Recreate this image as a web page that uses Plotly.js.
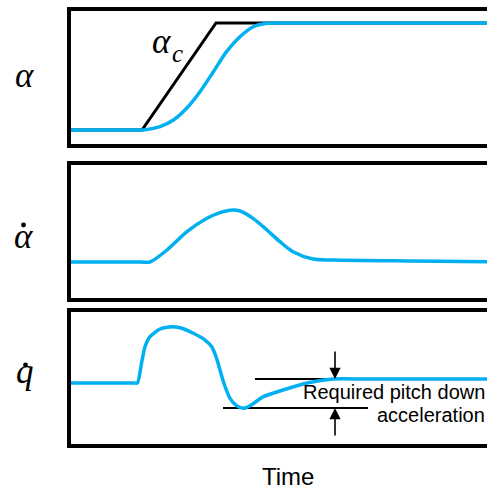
<!DOCTYPE html>
<html><head><meta charset="utf-8">
<script src="https://cdn.plot.ly/plotly-3.0.1.min.js"></script>
<style>html,body{margin:0;padding:0;background:#fff}</style>
</head><body><div id="chart" style="width:487px;height:490px"></div>
<script>
// ---- data (time units 0..105, normalised response units) ----
var alphaT   = [0, 17, 19.1, 23.25, 26.6, 29.9, 33.25, 36.6, 39.9, 43.25, 46.6, 49.9, 53.25, 58, 105];
var alphaV   = [0, 0, 0, 0.031, 0.093, 0.203, 0.358, 0.545, 0.732, 0.872, 0.965, 0.997, 1, 1, 1];
var alphaCT  = [0, 18.75, 37.25, 105];
var alphaCV  = [0, 0, 1, 1];
var adotT    = [0, 18.5, 20.75, 25, 30, 35, 38.25, 41.5, 43.25, 46.5, 50, 53.25, 56.5, 61.5, 66.5, 86.5, 105];
var adotV    = [0, 0, 0, 0.231, 0.583, 0.840, 0.948, 1, 0.981, 0.840, 0.615, 0.39, 0.198, 0.058, 0.038, 0.019, 0.006];
var qdotT    = [0, 16.5, 17.6, 18.7, 19.5, 20.75, 23.25, 26.2, 28.25, 31.6, 34.5, 36.2, 37.4, 39.1, 40.75, 42.4, 44.1, 45.75, 49.1, 54, 60, 66.5, 75, 105];
var qdotV    = [0, 0, 0, 0.367, 0.626, 0.799, 0.931, 0.971, 0.953, 0.857, 0.741, 0.626, 0.425, 0.022, -0.264, -0.391, -0.437, -0.391, -0.236, -0.121, 0, 0.069, 0.069, 0.069];
// reference levels for "required pitch down acceleration"
var refUpperT = [47, 75.75], refUpperV = 0.069;
var refLowerT = [39, 75.25], refLowerV = -0.431;
var arrowT = 67, arrowUpperTail = 0.569, arrowLowerTail = -0.931;
var panelLabels = ['α', 'α', 'q'];
var xLabel = 'Time';
var noteLines = ['Required pitch down', 'acceleration'];

var W = 487, H = 490;
function px(x){ return x / W; }
function py(y){ return 1 - y / H; }
var BLUE = '#00B0F0';

var traces = [
  {x: alphaCT, y: alphaCV, xaxis:'x', yaxis:'y', mode:'lines', line:{color:'#000', width:3}},
  {x: alphaT, y: alphaV, xaxis:'x', yaxis:'y', mode:'lines', line:{color:BLUE, width:3.5, shape:'spline', smoothing:0.8}},
  {x: adotT, y: adotV, xaxis:'x', yaxis:'y2', mode:'lines', line:{color:BLUE, width:3.5, shape:'spline', smoothing:0.8}},
  {x: refUpperT, y: [refUpperV, refUpperV], xaxis:'x', yaxis:'y3', mode:'lines', line:{color:'#000', width:2.2}},
  {x: refLowerT, y: [refLowerV, refLowerV], xaxis:'x', yaxis:'y3', mode:'lines', line:{color:'#000', width:2.2}},
  {x: qdotT, y: qdotV, xaxis:'x', yaxis:'y3', mode:'lines', line:{color:BLUE, width:3.5, shape:'spline', smoothing:0.6}}
];

var panels = [[9,146],[163,300],[310,446]];
var shapes = panels.map(function(p){
  return {type:'rect', xref:'paper', yref:'paper', x0:px(69), x1:1.05, y0:py(p[1]), y1:py(p[0]),
          line:{color:'#000', width:4}, layer:'above'};
});
function dot(cx, cy, r){
  return {type:'circle', xref:'paper', yref:'paper', x0:px(cx-r), x1:px(cx+r), y0:py(cy+r), y1:py(cy-r),
          fillcolor:'#000', line:{width:0}};
}
shapes.push(dot(23.5, 225, 2.4));
shapes.push(dot(25.5, 365, 2.4));

var serif = 'Liberation Serif, DejaVu Serif, serif';
var sans = 'Liberation Sans, Arial, sans-serif';
function txt(text, x, y, size, fam, xanchor){
  return {text:text, xref:'paper', yref:'paper', x:px(x), y:py(y), showarrow:false,
          xanchor:xanchor||'center', yanchor:'middle', font:{family:fam, size:size, color:'#000'}};
}
var annotations = [
  txt('<i>'+panelLabels[0]+'</i>', 24, 76, 35, serif),
  txt('<i>'+panelLabels[1]+'</i>', 23, 236, 35, serif),
  txt('<i>'+panelLabels[2]+'</i>', 25, 371, 35, serif),
  txt('<i>α</i>', 161, 41, 35, serif),
  txt('<i>c</i>', 177, 54, 25, serif),
  txt(xLabel, 288, 476, 24, sans),
  txt(noteLines[0], 487, 392, 20, sans, 'right'),
  txt(noteLines[1], 487, 415, 20, sans, 'right'),
  {x:arrowT, y:refUpperV, ax:arrowT, ay:arrowUpperTail, xref:'x', yref:'y3', axref:'x', ayref:'y3',
   text:'', showarrow:true, arrowhead:2, arrowsize:1.4, arrowwidth:1.6, arrowcolor:'#000', standoff:0},
  {x:arrowT, y:refLowerV, ax:arrowT, ay:arrowLowerTail, xref:'x', yref:'y3', axref:'x', ayref:'y3',
   text:'', showarrow:true, arrowhead:2, arrowsize:1.4, arrowwidth:1.6, arrowcolor:'#000', standoff:0}
];

var hidden = {visible:false, fixedrange:true};
var layout = {
  width:W, height:H, margin:{l:0,r:0,t:0,b:0}, showlegend:false,
  paper_bgcolor:'#fff', plot_bgcolor:'rgba(0,0,0,0)',
  xaxis: Object.assign({domain:[px(67),1], range:[0,105]}, hidden),
  yaxis: Object.assign({domain:[py(146),py(9)], range:[-0.1495,1.1308], anchor:'x'}, hidden),
  yaxis2: Object.assign({domain:[py(300),py(163)], range:[-0.7308,1.9038], anchor:'x'}, hidden),
  yaxis3: Object.assign({domain:[py(446),py(310)], range:[-1.0862,1.2586], anchor:'x'}, hidden),
  shapes:shapes, annotations:annotations
};
Plotly.newPlot('chart', traces, layout, {displayModeBar:false, staticPlot:true});
</script></body></html>
